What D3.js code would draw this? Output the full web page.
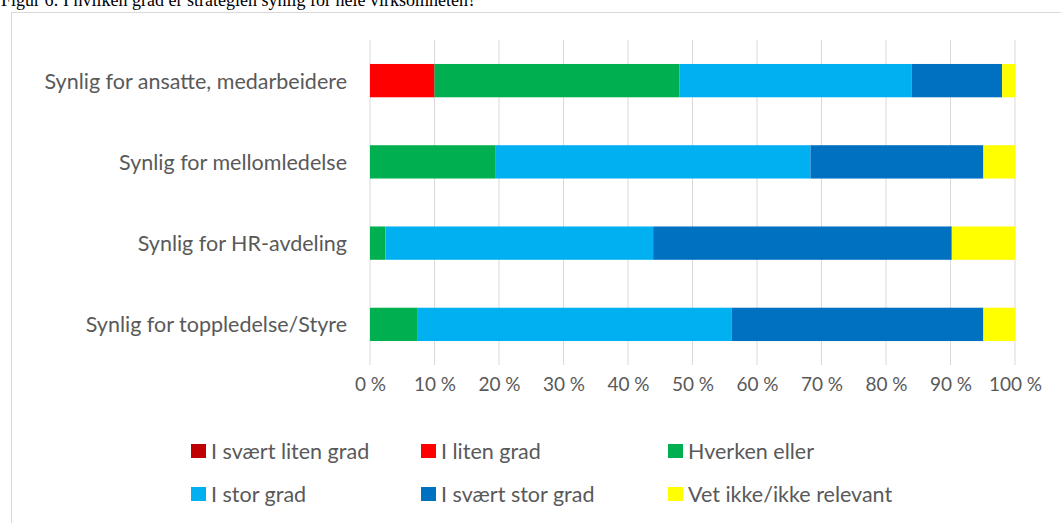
<!DOCTYPE html>
<html><head><meta charset="utf-8">
<script src="https://cdn.jsdelivr.net/npm/d3@7"></script>
<style>body{margin:0;background:#fff}svg{display:block}</style>
</head><body>
<svg id="c" width="1061" height="523"></svg>
<script>
const categories = ["Synlig for ansatte, medarbeidere","Synlig for mellomledelse","Synlig for HR-avdeling","Synlig for toppledelse/Styre"];
const seriesNames = ["I svært liten grad","I liten grad","Hverken eller","I stor grad","I svært stor grad","Vet ikke/ikke relevant"];
const seriesColors = ["#c00000","#ff0000","#00b050","#00b0f0","#0070c0","#ffff00"];
const svartLiten = [0,0,0,0];
const liten = [10,0,0,0];
const hverken = [38,19.5,2.4,7.3];
const stor = [36,48.8,41.5,48.8];
const svartStor = [14,26.8,46.3,39.0];
const vetIkke = [2,4.9,9.8,4.9];
const tickValues = [0,10,20,30,40,50,60,70,80,90,100];
const title = "Figur 6: I hvilken grad er strategien synlig for hele virksomheten?";

const seriesValues = [svartLiten,liten,hverken,stor,svartStor,vetIkke];
const rows = categories.map((c,i)=>{const o={cat:c}; seriesNames.forEach((s,j)=>o[s]=seriesValues[j][i]); return o;});
const stack = d3.stack().keys(seriesNames)(rows);

const svg = d3.select("#c");
const font = "Lato, 'Open Sans', sans-serif";
svg.append("text").attr("x",1).attr("y",6).attr("font-family","'Liberation Serif','Times New Roman',serif").attr("font-size",18).attr("fill","#000").text(title);
svg.append("rect").attr("x",11.5).attr("y",12.5).attr("width",1060).attr("height",520).attr("fill","none").attr("stroke","#d9d9d9");

const x = d3.scaleLinear().domain([0,100]).range([370,1015]);
const y = d3.scaleBand().domain(categories).range([40,365]).paddingInner(0.59).paddingOuter(0.295);

const g = svg.append("g");
g.selectAll("line.grid").data(tickValues).join("line").attr("class","grid")
 .attr("x1",d=>x(d)).attr("x2",d=>x(d)).attr("y1",40).attr("y2",365)
 .attr("stroke","#d9d9d9").attr("stroke-width",1);

g.selectAll("g.s").data(stack).join("g").attr("class","s").attr("fill",(d,i)=>seriesColors[i])
 .selectAll("rect").data(d=>d).join("rect")
 .attr("x",d=>x(d[0])).attr("width",d=>x(d[1])-x(d[0]))
 .attr("y",d=>y(d.data.cat)).attr("height",y.bandwidth());

const xAxis = d3.axisBottom(x).tickValues(tickValues).tickFormat(d=>d+" %").tickSize(0).tickPadding(0);
const xa = svg.append("g").attr("transform","translate(0,377)").call(xAxis);
xa.select(".domain").remove();
xa.selectAll("text").attr("font-family",font).attr("font-size",19).attr("fill","#595959").attr("dy","0.71em");

const yAxis = d3.axisLeft(y).tickSize(0).tickPadding(23);
const ya = svg.append("g").attr("transform","translate(370,1)").call(yAxis);
ya.select(".domain").remove();
ya.selectAll("text").attr("font-family",font).attr("font-size",21.5).attr("fill","#595959");

const legX = [191,421,668], legY = [451,494];
const leg = svg.selectAll("g.leg").data(seriesNames).join("g").attr("class","leg")
 .attr("transform",(d,i)=>`translate(${legX[i%3]},${legY[Math.floor(i/3)]})`);
leg.append("rect").attr("x",0).attr("y",-7).attr("width",15).attr("height",14).attr("fill",(d,i)=>seriesColors[i]);
leg.append("text").attr("x",20).attr("y",0).attr("dy","0.36em").attr("font-family",font).attr("font-size",21.5).attr("fill","#595959").text(d=>d);
</script>
</body></html>
